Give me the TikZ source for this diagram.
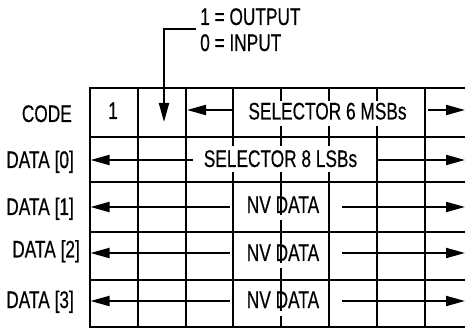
\documentclass[tikz,border=0pt]{standalone}
\usepackage{fontspec}
\setmainfont{Liberation Sans}[FakeStretch=0.72,FakeBold=0.4]
\usetikzlibrary{arrows.meta}
\tikzset{
  regline/.style={line width=2pt,line cap=rect},
  field/.style={-{Triangle[length=19pt,width=10pt]},line width=2pt},
  txt/.style={inner sep=0pt,font=\fontsize{24}{28}\selectfont},
}

\begin{document}
\begin{tikzpicture}[x=1pt,y=-1pt]
\useasboundingbox (0,0) rectangle (465,328);
\fill[white] (0,0) rectangle (465,328);
\clip (0,0) rectangle (465,328);
% register rows
\foreach \y in {88.3,136.7,182.3,232.3,280,326.7}
  \draw[regline] (89.5,\y) -- (480,\y);
\foreach \x in {89.5,137.5,186,425,473.5}
  \draw[regline] (\x,88.3) -- (\x,326.7);
% bit lines broken by the field names
\draw[regline] (233.3,88.3) -- (233.3,145) (233.3,173) -- (233.3,326.7);
\draw[regline] (281,88.3) -- (281,100) (281,127) -- (281,145)
  (281,173) -- (281,214) (281,221) -- (281,262) (281,269) -- (281,309.5)
  (281,316.5) -- (281,326.7);
\draw[regline] (329.3,88.3) -- (329.3,100) (329.3,127) -- (329.3,145)
  (329.3,173) -- (329.3,326.7);
\draw[regline] (377.3,88.3) -- (377.3,100) (377.3,127) -- (377.3,326.7);
% row names
\node[txt,anchor=base east] (code) at (72,122) {CODE};
\node[txt,anchor=base east] (data0) at (74,168) {DATA [0]};
\node[txt,anchor=base east] (data1) at (74,215) {DATA [1]};
\node[txt,anchor=base east] (data2) at (80,257.5) {DATA [2]};
\node[txt,anchor=base east] (data3) at (74,308) {DATA [3]};
% field names
\node[txt,anchor=base] (bit) at (113,119) {1};
\node[txt,anchor=base] (msb) at (327.5,119.5) {SELECTOR 6 MSBs};
\node[txt,anchor=base] (lsb) at (280.5,167) {SELECTOR 8 LSBs};
\node[txt,anchor=base] (nv1) at (283,213) {NV DATA};
\node[txt,anchor=base] (nv2) at (283,261) {NV DATA};
\node[txt,anchor=base] (nv3) at (283,308) {NV DATA};
% direction bit
\node[txt,anchor=base west] (dirout) at (200,25) {1 = OUTPUT};
\node[txt,anchor=base west] (dirin) at (200,51) {0 = INPUT};
\draw[field] (196,29.3) -- (164,29.3) -- (164,122);
% field extents
\draw[field] (233.3,110) -- (187,110);
\draw[field] (428,110) -- (465,110);
\draw[field] (193,160) -- (90.5,160);
\draw[field] (377.3,160) -- (465,160);
\foreach \y in {207,253,301}{
  \draw[field] (230,\y) -- (90.5,\y);
  \draw[field] (342,\y) -- (465,\y);
}
\end{tikzpicture}
\end{document}
